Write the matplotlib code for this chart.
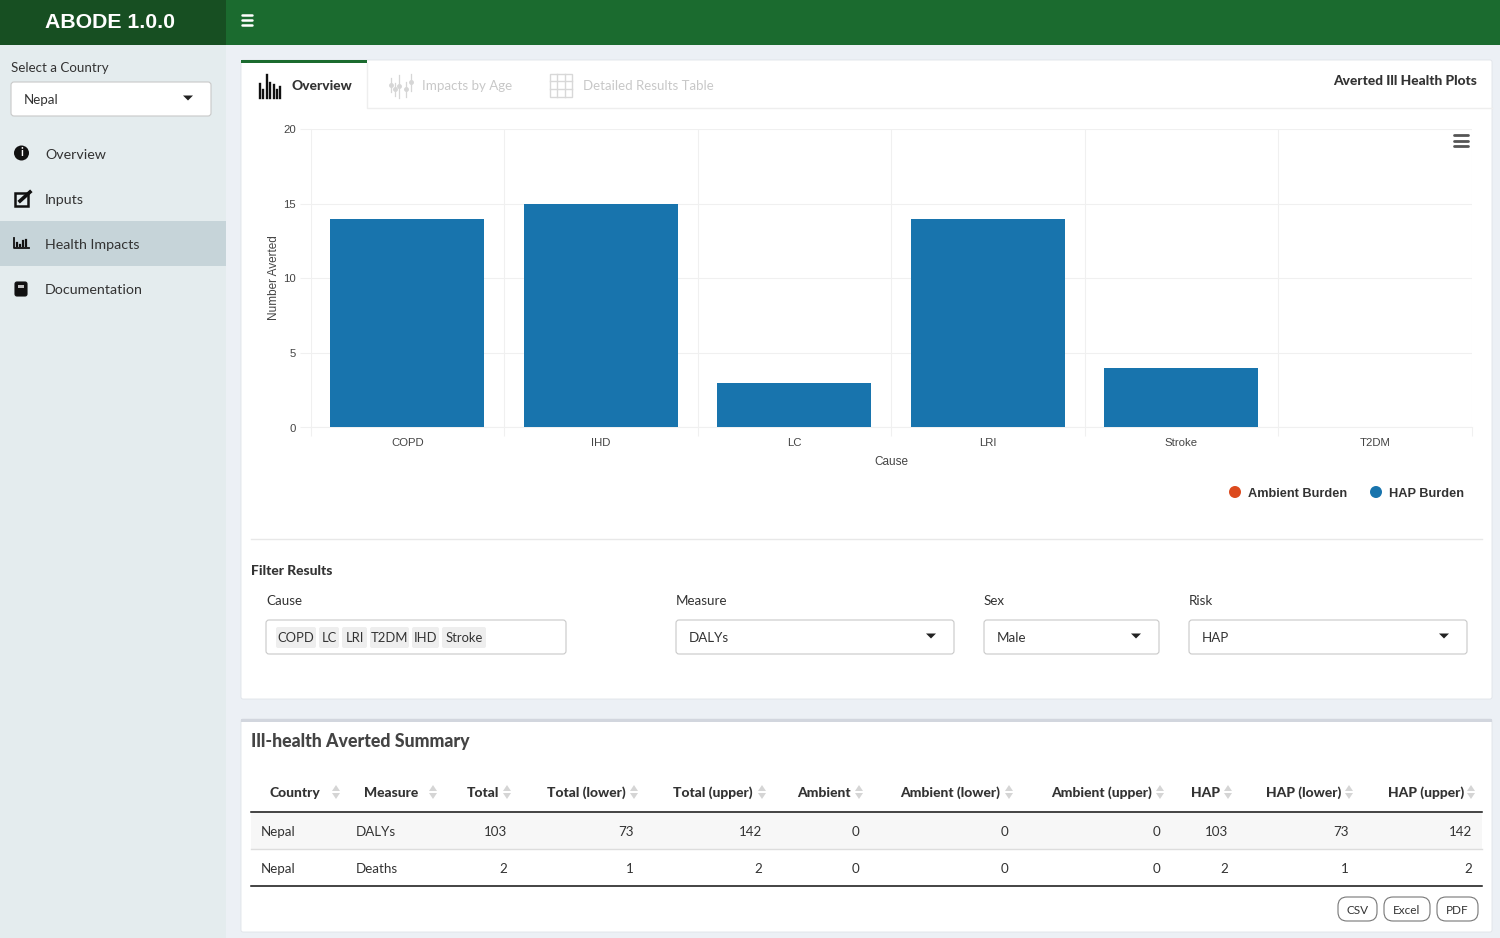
import matplotlib
matplotlib.use('Agg')
import matplotlib.pyplot as plt
from matplotlib.patches import Rectangle, FancyBboxPatch, Polygon, Circle

causes = ['COPD', 'IHD', 'LC', 'LRI', 'Stroke', 'T2DM']
averted = [14, 15, 3, 14, 4, 0]
y_ticks = [0, 5, 10, 15, 20]
legend_names = ['Ambient Burden', 'HAP Burden']

table_headers = ['Country', 'Measure', 'Total', 'Total (lower)', 'Total (upper)', 'Ambient',
                 'Ambient (lower)', 'Ambient (upper)', 'HAP', 'HAP (lower)', 'HAP (upper)']
row_dalys = ['Nepal', 'DALYs', '103', '73', '142', '0', '0', '0', '103', '73', '142']
row_deaths = ['Nepal', 'Deaths', '2', '1', '2', '0', '0', '0', '2', '1', '2']
menu_items = ['Overview', 'Inputs', 'Health Impacts', 'Documentation']
cause_chips = ['COPD', 'LC', 'LRI', 'T2DM', 'IHD', 'Stroke']

GREEN = '#1b6b2f'
BLUE = '#1874ad'
ORANGE = '#dc4a1e'
TXT = '#333333'
plt.rcParams['font.family'] = ['Lato', 'DejaVu Sans']

fig = plt.figure(figsize=(15, 9.38), dpi=100, facecolor='#ecf0f5')
# whole page axes in pixels, y going down
bg = fig.add_axes([0, 0, 1, 1])
bg.set_xlim(0, 1500)
bg.set_ylim(938, 0)
bg.axis('off')


def box(x0, y0, x1, y1, color, z=1, **kw):
    bg.add_patch(Rectangle((x0, y0), x1 - x0, y1 - y0, facecolor=color, edgecolor='none', zorder=z, **kw))


def rbox(x0, y0, x1, y1, fc='white', ec='#c9c9c9', r=3, lw=0.8, z=2):
    bg.add_patch(FancyBboxPatch((x0, y0), x1 - x0, y1 - y0, boxstyle=f'round,pad=0,rounding_size={r}',
                                facecolor=fc, edgecolor=ec, linewidth=lw, zorder=z))


def txt(x, y, s, size=9.6, weight='normal', color=TXT, ha='left', **kw):
    # plain bold in Lato comes out too thin next to the reference
    if weight == 'bold':
        weight = 900
    bg.text(x, y + 1, s, fontsize=size, fontweight=weight, color=color, ha=ha, va='center', zorder=6, **kw)


def caret(x, y, w=5, h=5, color='#222222'):
    bg.add_patch(Polygon([(x - w, y - h / 2), (x + w, y - h / 2), (x, y + h / 2)], facecolor=color,
                         edgecolor='none', zorder=6))


def burger(x0, x1, ys, color, lw):
    for y in ys:
        bg.plot([x0, x1], [y, y], color=color, lw=lw, solid_capstyle='round', zorder=6)


def sort_arrows(x, y):
    bg.add_patch(Polygon([(x - 4, y - 1), (x + 4, y - 1), (x, y - 7)], facecolor='#d5d5d5', edgecolor='none', zorder=6))
    bg.add_patch(Polygon([(x - 4, y + 1), (x + 4, y + 1), (x, y + 7)], facecolor='#d5d5d5', edgecolor='none', zorder=6))


# header and sidebar
box(0, 0, 1500, 45, GREEN)
box(0, 0, 226, 45, '#174f22', z=2)
bg.text(110, 22, 'ABODE 1.0.0', fontsize=15.3, fontweight='bold', color='white', ha='center', va='center',
        family='Liberation Sans', zorder=6)
burger(242, 252, [15, 20, 25], 'white', 1.8)
box(0, 45, 226, 938, '#e4ecee')
box(0, 221, 226, 266, '#c6d4d9', z=2)
txt(11, 67, 'Select a Country')
rbox(11, 82, 211, 116)
txt(24, 99, 'Nepal')
caret(188, 98)
for name, y in zip(menu_items, [154, 199, 244, 289]):
    txt(45, y, name, 10.3)

# sidebar icons
bg.add_patch(Circle((21.5, 153), 7.5, facecolor='#111111', zorder=6))
bg.text(21.5, 153, 'i', color='white', fontsize=8, fontweight='bold', ha='center', va='center', zorder=7)
bg.add_patch(Rectangle((15, 193), 13, 13, facecolor='none', edgecolor='#111111', lw=1.8, zorder=6))
bg.plot([20, 30], [201, 192], color='#111111', lw=2.6, zorder=7)
bg.plot([14, 14, 29], [238, 248, 248], color='#111111', lw=1.3, zorder=6)
for x, top in zip([17, 20, 23, 26], [243, 245, 241, 240]):
    bg.plot([x, x], [top, 246], color='#111111', lw=1.6, zorder=6)
rbox(15, 282, 27, 296, fc='#111111', ec='#111111', r=2)
box(18, 285, 24, 288, '#c0c0c0', z=6)

# main panels
rbox(241, 60, 1492, 699, ec='#dfe3e8', r=2, lw=0.6, z=1)
rbox(241, 719, 1492, 932, ec='#dfe3e8', r=2, lw=0.6, z=1)
box(241, 719, 1492, 722, '#d2d6de', z=2)
box(241, 60, 367, 63, GREEN, z=3)
bg.plot([367, 367, 1492], [63, 108, 108], color='#eeeeee', lw=1, zorder=2)
bg.plot([251, 1482], [539.5, 539.5], color='#e8e8e8', lw=1, zorder=2)

# tab bar
txt(292, 85, 'Overview', 9.9, 'bold')
txt(422.5, 85, 'Impacts by Age', color='#c8c8c8')
txt(583, 85, 'Detailed Results Table', 9.5, color='#c8c8c8')
txt(1477, 80, 'Averted Ill Health Plots', 9.9, 'bold', ha='right')
for x, top in zip([259.5, 263, 266.5, 270, 273.5, 277, 280], [84, 90, 75, 83, 85, 90, 87]):
    bg.plot([x, x], [top, 98], color='#111111', lw=1.7, zorder=6)
for x, y0, y1 in zip([391, 395, 399, 406, 411], [78, 83, 75, 82, 74], [92, 96, 98, 97, 91]):
    bg.plot([x, x], [y0, y1], color='#d6d6d6', lw=0.9, zorder=6)
    bg.plot([x], [(y0 + y1) / 2], 'o', color='#d6d6d6', ms=2.5, zorder=6)
bg.add_patch(Rectangle((549.5, 74.5), 22, 23, facecolor='none', edgecolor='#d8d8d8', lw=1, zorder=6))
for d in [7, 15]:
    bg.plot([549.5 + d, 549.5 + d], [74.5, 97.5], color='#d8d8d8', lw=1, zorder=6)
    bg.plot([549.5, 571.5], [74.5 + d, 74.5 + d], color='#d8d8d8', lw=1, zorder=6)

# the chart
ax = fig.add_axes([310.5 / 1500, 1 - 427.5 / 938, 1161 / 1500, 298.5 / 938], zorder=3)
ax.patch.set_alpha(0)
ax.bar(range(len(causes)), averted, width=0.795, color=BLUE, zorder=3)
ax.set_xlim(-0.5, 5.5)
ax.set_ylim(0, 20)
ax.set_xticks(range(len(causes)))
ax.set_xticklabels(causes, fontsize=8.2, color='#444444', family='Liberation Sans')
ax.set_xticks([i - 0.5 for i in range(len(causes) + 1)], minor=True)
ax.set_yticks(y_ticks)
ax.set_yticklabels(y_ticks, fontsize=8.2, color='#444444', family='Liberation Sans')
ax.tick_params(axis='x', which='major', length=0, pad=7.3)
ax.tick_params(axis='x', which='minor', length=6.5, color='#f0f0f0', width=0.8)
ax.tick_params(axis='y', length=8, color='#f0f0f0', width=0.8, pad=2.5)
ax.grid(True, axis='y', color='#f0f0f0', lw=0.8, zorder=0)
ax.grid(True, axis='x', which='minor', color='#f0f0f0', lw=0.8, zorder=0)
ax.grid(False, axis='x', which='major')
for side in ['top', 'left', 'right']:
    ax.spines[side].set_visible(False)
ax.spines['bottom'].set_color('#f0f0f0')
bg.text(891.5, 462, 'Cause', fontsize=8.5, color='#444444', ha='center', va='center', family='Liberation Sans', zorder=6)
bg.text(274, 278, 'Number Averted', fontsize=8.5, color='#444444', ha='center', va='center', rotation=90,
        family='Liberation Sans', zorder=6)
burger(1454, 1468, [135.5, 141, 146.5], '#555555', 2.0)

# chart legend
for name, xc, xt, c in zip(legend_names, [1235, 1376], [1248, 1389], [ORANGE, BLUE]):
    bg.add_patch(Circle((xc, 492), 6, facecolor=c, zorder=6))
    bg.text(xt, 494, name, fontsize=9.2, fontweight='bold', color=TXT, va='center', family='Liberation Sans', zorder=6)

# filters
txt(251, 570, 'Filter Results', 10, 'bold')
for label, x0, x1, value in [('Measure', 676, 954, 'DALYs'), ('Sex', 984, 1159, 'Male'), ('Risk', 1189, 1467, 'HAP')]:
    txt(x0, 600, label)
    rbox(x0, 620, x1, 654)
    txt(x0 + 13, 637, value)
    caret(x1 - 23, 636)
txt(266, 600, 'Cause')
rbox(266, 620, 566, 654)
chip_left = [276, 319, 342, 370, 412, 442]
chip_right = [316, 339, 367, 409, 439, 486]
for chip, x0, x1 in zip(cause_chips, chip_left, chip_right):
    rbox(x0, 627, x1, 648, fc='#eeeeee', ec='none', r=2, lw=0)
    txt((x0 + x1) / 2, 637, chip, 9.4, ha='center')

# summary table
txt(251, 741, 'Ill-health Averted Summary', 12.8, 'bold', color='#444444')
head_x = [269, 364, 499, 626, 753, 851, 1000, 1152, 1220, 1341, 1464]
arrow_x = [336, 433, 507, 634, 762, 859, 1009, 1160, 1228, 1349, 1471]
cell_x = [261, 356, 507, 634, 762, 859, 1008, 1160, 1228, 1349, 1472]
for i, h in enumerate(table_headers):
    txt(head_x[i], 792, h, 10, 'bold', ha='left' if i < 2 else 'right')
    sort_arrows(arrow_x[i], 792)
box(251, 813, 1482, 849, '#f7f7f7', z=2)
bg.plot([251, 1482], [812.5, 812.5], color='#111111', lw=1.1, zorder=3)
bg.plot([251, 1482], [849.5, 849.5], color='#dddddd', lw=1, zorder=3)
bg.plot([251, 1482], [886.5, 886.5], color='#111111', lw=1.1, zorder=3)
for row, y in zip([row_dalys, row_deaths], [831, 868]):
    for i, v in enumerate(row):
        txt(cell_x[i], y, v, 9.6, ha='left' if i < 2 else 'right')
for label, x0, x1 in [('CSV', 1338, 1377), ('Excel', 1384, 1430), ('PDF', 1437, 1478)]:
    rbox(x0, 897, x1, 921, ec='#777777', r=9)
    txt((x0 + x1) / 2, 909, label, 8.5, ha='center')

fig.savefig('out.png', dpi=100, facecolor=fig.get_facecolor())
